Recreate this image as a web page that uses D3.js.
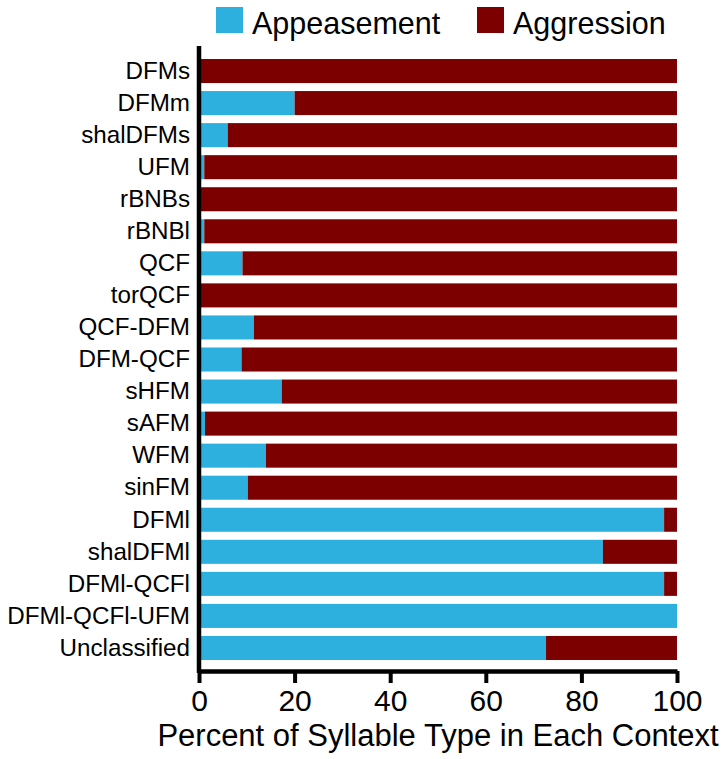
<!DOCTYPE html>
<html>
<head>
<meta charset="utf-8">
<script src="https://cdn.jsdelivr.net/npm/d3@7/dist/d3.min.js"></script>
<style>
  html, body { margin: 0; padding: 0; background: #fff; }
  svg { display: block; font-family: "Liberation Sans", Arial, Helvetica, sans-serif; }
</style>
</head>
<body>
<svg id="chart" width="723" height="759"></svg>
<script>
const categories = ["DFMs","DFMm","shalDFMs","UFM","rBNBs","rBNBl","QCF","torQCF","QCF-DFM","DFM-QCF","sHFM","sAFM","WFM","sinFM","DFMl","shalDFMl","DFMl-QCFl","DFMl-QCFl-UFM","Unclassified"];
const appeasement = [0, 20, 6, 1.1, 0, 1.1, 9.1, 0, 11.5, 8.9, 17.3, 1.25, 14, 10.2, 97.3, 84.5, 97.3, 100, 72.6];
const aggression = appeasement.map(v => 100 - v);
const seriesNames = ["Appeasement", "Aggression"];
const seriesColors = ["#2EB0DF", "#7D0000"];
const xTicks = [0, 20, 40, 60, 80, 100];
const xTitle = "Percent of Syllable Type in Each Context";

const svg = d3.select("#chart");
const x = d3.scaleLinear().domain([0, 100]).range([199, 677]);
const y = d3.scaleBand().domain(categories).range([55, 664]).paddingInner(0.25).paddingOuter(0.125);

const stackData = categories.map((c, i) => ({cat: c, Appeasement: appeasement[i], Aggression: aggression[i]}));
const stacked = d3.stack().keys(seriesNames)(stackData);

svg.append("g").selectAll("g")
  .data(stacked).join("g")
  .attr("fill", (d, i) => seriesColors[i])
  .selectAll("rect")
  .data(d => d.filter(s => s[1] - s[0] > 0))
  .join("rect")
  .attr("x", d => x(d[0]))
  .attr("width", d => x(d[1]) - x(d[0]))
  .attr("y", d => y(d.data.cat))
  .attr("height", y.bandwidth());

// Y axis labels
const yAxis = svg.append("g")
  .attr("transform", `translate(${x(0)},0)`)
  .call(d3.axisLeft(y).tickSize(0).tickPadding(9));
yAxis.select(".domain").remove();
yAxis.selectAll("text").attr("font-size", 24.2).attr("fill", "#000").attr("font-family", null);

// vertical axis line
svg.append("line")
  .attr("x1", x(0)).attr("x2", x(0))
  .attr("y1", 46).attr("y2", 673)
  .attr("stroke", "#000").attr("stroke-width", 4.5);

// X axis
const xAxis = svg.append("g")
  .attr("transform", "translate(0,671)")
  .call(d3.axisBottom(x).tickValues(xTicks).tickSize(12).tickSizeOuter(0).tickPadding(7));
xAxis.select(".domain").attr("stroke", "#000").attr("stroke-width", 4.5);
xAxis.selectAll(".tick line").attr("stroke", "#000").attr("stroke-width", 4);
xAxis.selectAll("text").attr("font-size", 30).attr("fill", "#000").attr("font-family", null);

svg.append("text")
  .attr("x", (x(0) + x(100)) / 2)
  .attr("y", 746)
  .attr("text-anchor", "middle")
  .attr("font-size", 31)
  .text(xTitle);

// Legend
const legendX = [216, 477];
const legend = svg.append("g");
seriesNames.forEach((name, i) => {
  legend.append("rect")
    .attr("x", legendX[i]).attr("y", 7)
    .attr("width", 27).attr("height", 26)
    .attr("fill", seriesColors[i]);
  legend.append("text")
    .attr("x", legendX[i] + 36).attr("y", 34)
    .attr("font-size", 30.5)
    .text(name);
});
</script>
</body>
</html>
